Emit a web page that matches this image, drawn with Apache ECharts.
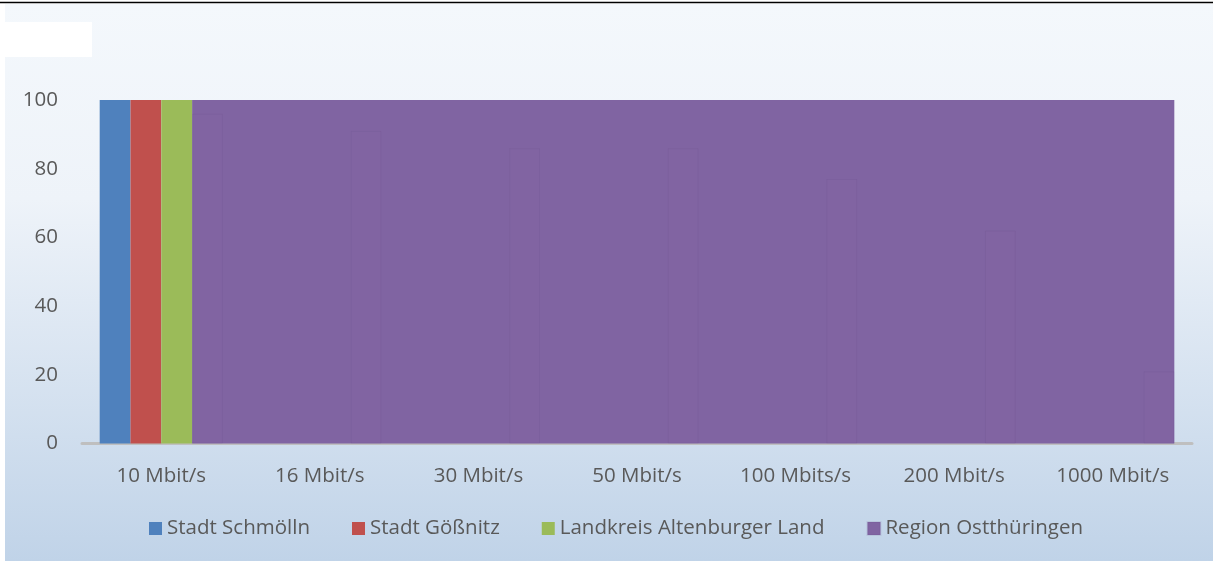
<!DOCTYPE html>
<html><head><meta charset="utf-8">
<script src="https://cdn.jsdelivr.net/npm/echarts@6/dist/echarts.min.js"></script>
<style>html,body{margin:0;padding:0;background:#fff}#chart{width:1213px;height:561px}</style>
</head><body><div id="chart"></div>
<script>
// Categories and series values
const categories = ['10 Mbit/s', '16 Mbit/s', '30 Mbit/s', '50 Mbit/s', '100 Mbits/s', '200 Mbit/s', '1000 Mbit/s'];
const schmoelln = [100, null, null, null, null, null, null];
const goessnitz = [100, null, null, null, null, null, null];
const landkreis = [100, null, null, null, null, null, null];
const ostthueringen = [96, 91, 86, 86, 77, 62, 21];
// Filled band of the regional series: first category, last category, top value
const ostthueringenBand = [0, 6, 100];
const yTicks = [0, 20, 40, 60, 80, 100];

const BAR_W = 30.8;
const FONT = '"Open Sans", sans-serif';
const FONT_SIZE = 20.5;
const TEXT = '#595959';

const chart = echarts.init(document.getElementById('chart'), null, {renderer: 'canvas'});
chart.setOption({
  animation: false,
  textStyle: {fontFamily: FONT},
  graphic: [
    {type: 'rect', z: -10, shape: {x: 5, y: 4, width: 1208, height: 557},
      style: {fill: new echarts.graphic.LinearGradient(0, 0, 0, 1, [
        {offset: 0, color: '#f4f8fc'}, {offset: 0.35, color: '#eef3f9'}, {offset: 1, color: '#c0d3e8'}])}},
    {type: 'line', z: 10, shape: {x1: 0, y1: 2.5, x2: 1213, y2: 2.5}, style: {stroke: '#000', lineWidth: 1.5}},
    {type: 'rect', z: -5, shape: {x: 5, y: 22, width: 87, height: 35}, style: {fill: '#fff'}}
  ],
  grid: {left: 82, right: 21, top: 100, bottom: 117.5, containLabel: false},
  legend: {
    left: 144, top: 513, itemWidth: 13, itemHeight: 13, itemGap: 42,
    icon: 'rect',
    textStyle: {color: TEXT, fontSize: FONT_SIZE, fontFamily: FONT},
    data: [
      {name: 'Stadt Schmölln'}, {name: 'Stadt Gößnitz'}, {name: 'Landkreis Altenburger Land'},
      {name: 'Region Ostthüringen', itemStyle: {color: '#8064a2'}}
    ]
  },
  xAxis: {
    type: 'category', data: categories,
    axisLine: {lineStyle: {color: '#bfbfbf', width: 3}},
    axisTick: {show: false},
    axisLabel: {color: TEXT, fontSize: FONT_SIZE, margin: 22, fontFamily: FONT}
  },
  yAxis: {
    type: 'value', min: yTicks[0], max: yTicks[yTicks.length - 1], interval: yTicks[1] - yTicks[0],
    axisLine: {show: false}, axisTick: {show: false}, splitLine: {show: false},
    axisLabel: {color: TEXT, fontSize: FONT_SIZE, margin: 24, fontFamily: FONT}
  },
  series: [
    {name: 'Stadt Schmölln', type: 'bar', data: schmoelln, barWidth: BAR_W, barGap: 0, itemStyle: {color: '#4f81bd'}},
    {name: 'Stadt Gößnitz', type: 'bar', data: goessnitz, barWidth: BAR_W, barGap: 0, itemStyle: {color: '#c0504d'}},
    {name: 'Landkreis Altenburger Land', type: 'bar', data: landkreis, barWidth: BAR_W, barGap: 0, itemStyle: {color: '#9bbb59'}},
    {name: 'Region Ostthüringen', type: 'bar', data: ostthueringen, barWidth: BAR_W, barGap: 0, z: 5,
      itemStyle: {color: 'rgba(140,115,175,0.07)', borderColor: 'rgba(95,75,135,0.12)', borderWidth: 1}},
    {
      type: 'custom', z: 1, silent: true,
      encode: {x: [0, 1], y: 2},
      data: [ostthueringenBand],
      renderItem(params, api) {
        const a = api.coord([api.value(0), api.value(2)]);
        const b = api.coord([api.value(1), 0]);
        const x0 = a[0] + BAR_W, x1 = b[0] + 2 * BAR_W;
        return {type: 'rect', shape: {x: x0, y: a[1], width: x1 - x0, height: b[1] - a[1]},
          style: {fill: '#8064a2'}};
      }
    }
  ]
});
</script></body></html>
